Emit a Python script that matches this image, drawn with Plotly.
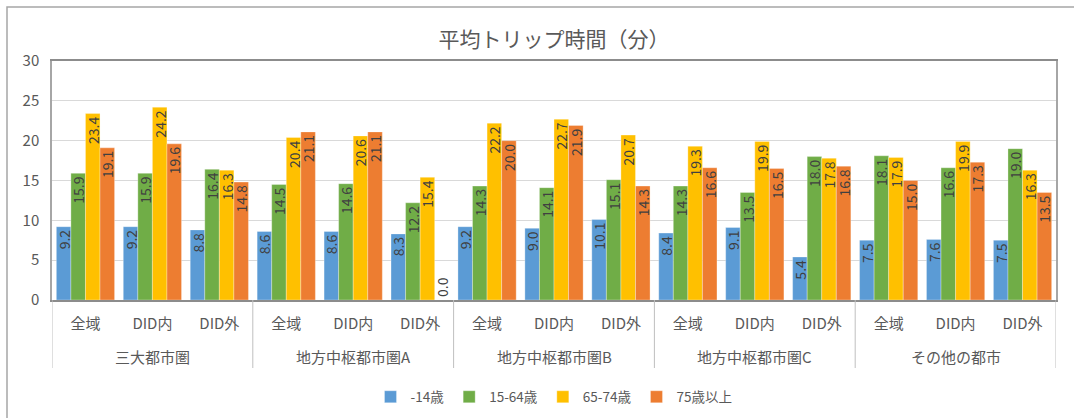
import plotly.graph_objects as go

# Regions and area types
regions = ["三大都市圏", "地方中枢都市圏A", "地方中枢都市圏B", "地方中枢都市圏C", "その他の都市"]
areas = ["全域", "DID内", "DID外"]

# Average trip time (minutes) by age group, in region/area order
age_groups = ["-14歳", "15-64歳", "65-74歳", "75歳以上"]
age_u14 = [9.2, 9.2, 8.8, 8.6, 8.6, 8.3, 9.2, 9.0, 10.1, 8.4, 9.1, 5.4, 7.5, 7.6, 7.5]
age_15_64 = [15.9, 15.9, 16.4, 14.5, 14.6, 12.2, 14.3, 14.1, 15.1, 14.3, 13.5, 18.0, 18.1, 16.6, 19.0]
age_65_74 = [23.4, 24.2, 16.3, 20.4, 20.6, 15.4, 22.2, 22.7, 20.7, 19.3, 19.9, 17.8, 17.9, 19.9, 16.3]
age_75plus = [19.1, 19.6, 14.8, 21.1, 21.1, 0.0, 20.0, 21.9, 14.3, 16.6, 16.5, 16.8, 15.0, 17.3, 13.5]

series = [age_u14, age_15_64, age_65_74, age_75plus]
colors = ["#5B9BD5", "#70AD47", "#FFC000", "#ED7D31"]

n_areas = len(areas)
positions = list(range(len(regions) * n_areas))
area_labels = [a for _ in regions for a in areas]

FONT = "Noto Sans CJK JP"
TEXT = "#595959"

W, H = 1074, 418
M_L, M_R, M_T, M_B = 52, 18, 61, 118
PLOT_H = H - M_T - M_B


def paper_y(py):
    """Convert a pixel row of the page into a paper y coordinate."""
    return (H - M_B - py) / PLOT_H


fig = go.Figure()
for name, vals, col in zip(age_groups, series, colors):
    fig.add_trace(go.Bar(
        name=name,
        x=positions,
        y=vals,
        marker=dict(color=col, line=dict(color="rgba(255,255,255,0.6)", width=0.5)),
        texttemplate="%{y:.1f}",
        textposition=["outside" if v == 0 else "inside" for v in vals],
        insidetextanchor="end",
        textangle=-90,
        constraintext="none",
        textfont=dict(family=FONT, size=14, color="#404040"),
        cliponaxis=False,
    ))

# Region names under the area labels, and dividers between regions
annotations = []
shapes = []
for i, region in enumerate(regions):
    annotations.append(dict(
        x=i * n_areas + (n_areas - 1) / 2, xref="x",
        y=paper_y(356), yref="paper", yanchor="middle",
        text=region, showarrow=False,
        font=dict(family=FONT, size=15, color=TEXT),
    ))
for i in range(len(regions) + 1):
    xb = i * n_areas - 0.5
    shapes.append(dict(
        type="line", xref="x", yref="paper",
        x0=xb, x1=xb, y0=0, y1=paper_y(368),
        line=dict(color="#BFBFBF", width=1),
    ))

# Chart-area frame
shapes.append(dict(type="rect", xref="paper", yref="paper",
                   x0=(7 - M_L) / (W - M_L - M_R), x1=1.2,
                   y0=paper_y(460), y1=paper_y(7),
                   line=dict(color="#A6A6A6", width=1.5), layer="below"))

fig.update_layout(
    width=W, height=H,
    margin=dict(l=M_L, r=M_R, t=M_T, b=M_B, autoexpand=False),
    paper_bgcolor="white", plot_bgcolor="white",
    barmode="group", bargap=0.13, bargroupgap=0,
    font=dict(family=FONT, color=TEXT),
    title=dict(text="平均トリップ時間（分）", x=0.5, xref="paper", xanchor="center",
               y=1 - 40 / H, yanchor="middle",
               font=dict(family=FONT, size=21, color=TEXT)),
    legend=dict(orientation="h", x=0.5, xanchor="center",
                y=paper_y(397), yanchor="middle",
                font=dict(family=FONT, size=13.5, color=TEXT), traceorder="normal",
                itemwidth=30),
    annotations=annotations,
    shapes=shapes,
)

fig.update_xaxes(
    range=[-0.5, positions[-1] + 0.5], automargin=False,
    tickmode="array", tickvals=positions, ticktext=area_labels,
    showline=True, linecolor="#8C8C8C", linewidth=2, mirror=True,
    showgrid=False, zeroline=False,
    tickfont=dict(family=FONT, size=15, color=TEXT),
    ticks="", ticklabelstandoff=9,
)
fig.update_yaxes(
    range=[0, 30], dtick=5, automargin=False,
    showgrid=True, gridcolor="#D9D9D9", gridwidth=1,
    showline=True, linecolor="#A6A6A6", linewidth=1.5, mirror=True,
    zeroline=False,
    tickfont=dict(family=FONT, size=15, color=TEXT),
    ticklabelstandoff=8,
)

fig.write_html("out.html")
